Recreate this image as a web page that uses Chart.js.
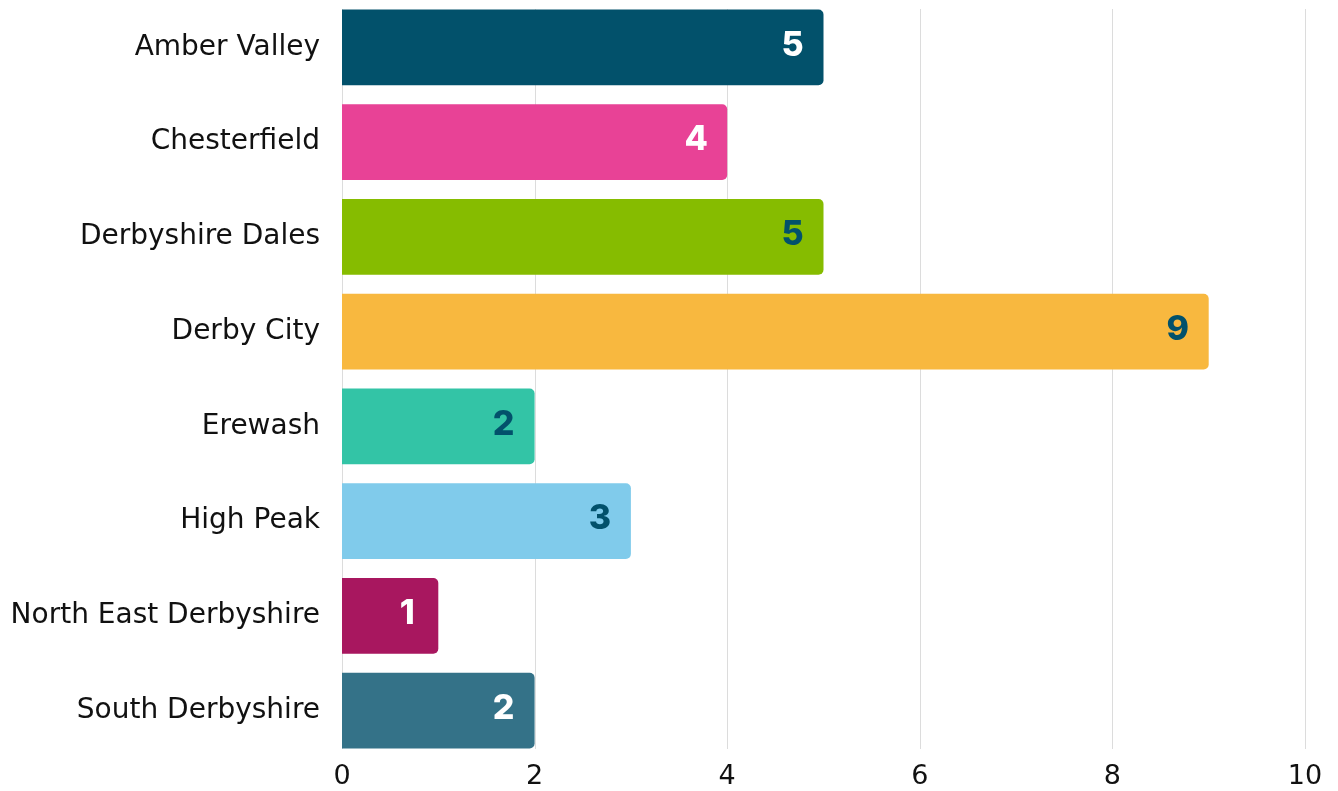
<!DOCTYPE html>
<html lang="en">
<head>
  <meta charset="UTF-8">
  <title>Derbyshire districts</title>
  <style>
    html, body { margin: 0; padding: 0; background: #ffffff; }
    .chartBox { width: 1338px; height: 791px; }
  </style>
</head>
<body>
<div class="chartBox">
  <canvas id="myChart"></canvas>
</div>
<script src="https://cdn.jsdelivr.net/npm/chart.js"></script>
<script>
  const districts = ['Amber Valley', 'Chesterfield', 'Derbyshire Dales', 'Derby City',
    'Erewash', 'High Peak', 'North East Derbyshire', 'South Derbyshire'];
  const counts = [5, 4, 5, 9, 2, 3, 1, 2];
  const barColors = ['#02516b', '#e84296', '#86bc00', '#f8b83f',
    '#33c4a6', '#80cbeb', '#a8175f', '#347288'];
  const labelColors = ['#ffffff', '#ffffff', '#02516b', '#02516b',
    '#02516b', '#02516b', '#ffffff', '#ffffff'];
  const xTicks = [0, 2, 4, 6, 8, 10];

  const FONT = '"DejaVu Sans", sans-serif';
  const BOLD = 'Inter, "Open Sans", sans-serif';

  // vertical grid lines, only as tall as the stack of bars
  const gridLines = {
    id: 'gridLines',
    beforeDatasetsDraw(chart) {
      const x = chart.scales.x;
      const bars = chart.getDatasetMeta(0).data;
      const first = bars[0], last = bars[bars.length - 1];
      const top = Math.round(first.y - first.height / 2);
      const bottom = Math.round(last.y + last.height / 2);
      const c = chart.ctx;
      c.save();
      c.strokeStyle = '#dcdcdc';
      c.lineWidth = 1;
      xTicks.forEach(v => {
        const px = Math.round(x.getPixelForValue(v)) + 0.5;
        c.beginPath();
        c.moveTo(px, top);
        c.lineTo(px, bottom);
        c.stroke();
      });
      c.restore();
    }
  };

  // value written inside the end of each bar
  const valueLabels = {
    id: 'valueLabels',
    afterDatasetsDraw(chart) {
      const c = chart.ctx;
      const bars = chart.getDatasetMeta(0).data;
      c.save();
      c.font = '800 34px ' + BOLD;
      c.textAlign = 'center';
      c.textBaseline = 'middle';
      bars.forEach((bar, i) => {
        c.fillStyle = labelColors[i];
        c.fillText(String(counts[i]), bar.x - 31, bar.y - 2);
      });
      c.restore();
    }
  };

  const ctx = document.getElementById('myChart');

  const myChart = new Chart(ctx, {
    type: 'bar',
    data: {
      labels: districts,
      datasets: [{
        data: counts,
        backgroundColor: barColors,
        borderWidth: 0,
        borderRadius: 5,
        barPercentage: 0.8,
        categoryPercentage: 1
      }]
    },
    options: {
      indexAxis: 'y',
      responsive: true,
      maintainAspectRatio: false,
      animation: false,
      layout: {
        padding: { top: 0, right: 33, bottom: 0, left: 0 }
      },
      plugins: {
        legend: { display: false },
        tooltip: { enabled: false }
      },
      scales: {
        x: {
          min: 0,
          max: 10,
          afterBuildTicks: s => { s.ticks = xTicks.map(v => ({ value: v })); },
          afterFit: s => { s.height = 33; },
          grid: { display: false, drawTicks: false },
          border: { display: false },
          ticks: {
            padding: 3,
            color: '#111111',
            font: { family: FONT, size: 27 }
          }
        },
        y: {
          grid: { display: false, drawTicks: false },
          border: { display: false },
          afterFit: s => {
            s.width = 342;
            s.paddingTop = 0;
            s.paddingBottom = 0;
          },
          ticks: {
            padding: 22,
            color: '#111111',
            font: { family: FONT, size: 28 }
          }
        }
      }
    },
    plugins: [gridLines, valueLabels]
  });
</script>
</body>
</html>
